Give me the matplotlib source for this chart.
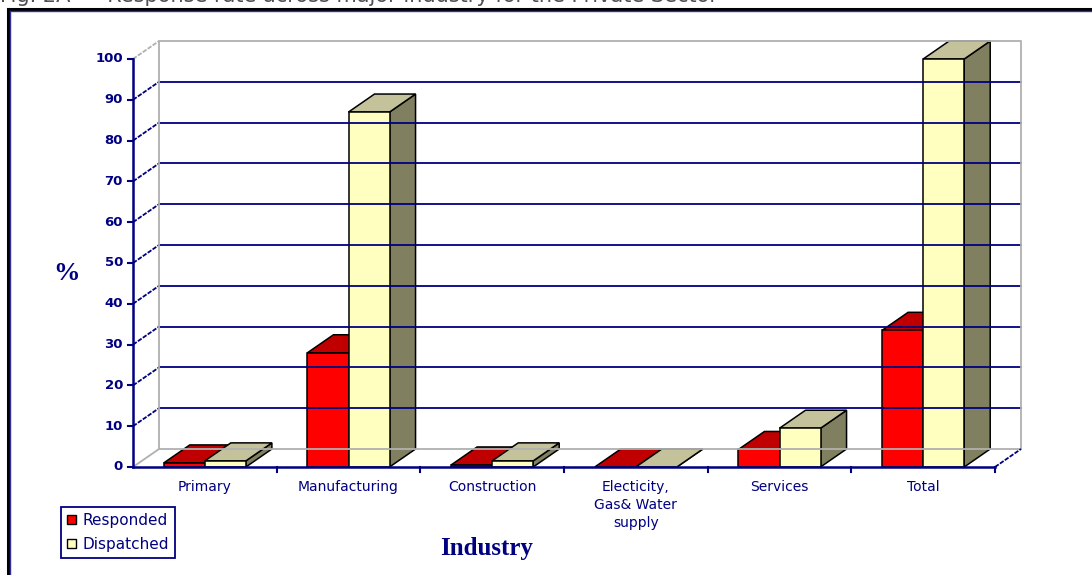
import matplotlib
matplotlib.use("Agg")
import matplotlib.pyplot as plt
from matplotlib.patches import Polygon, Patch
from matplotlib.lines import Line2D

categories = ["Primary", "Manufacturing", "Construction",
              "Electicity,\nGas& Water\nsupply", "Services", "Total"]
responded = [1, 28, 0.5, 0, 4.3, 33.5]
dispatched = [1.5, 87, 1.5, 0, 9.5, 100]
yticks = [0, 10, 20, 30, 40, 50, 60, 70, 80, 90, 100]
series_names = ["Responded", "Dispatched"]
title_text = "Fig. 2A  \u2013  Response rate across major industry for the Private Sector"

NAVY = "#000080"
GRAY = "#b0b0b0"
RED_FRONT, RED_TOP, RED_SIDE = "#ff0000", "#c00000", "#800000"
YEL_FRONT, YEL_TOP, YEL_SIDE = "#ffffc0", "#c4c29a", "#807f60"

W, H = 1092, 575
fig = plt.figure(figsize=(W / 100, H / 100), dpi=100)
fig.patch.set_facecolor("white")

# front face of the plot area in pixels
x_left, x_right = 133, 995
y_bot, y_top = 467, 59
ax = fig.add_axes([x_left / W, (H - y_bot) / H,
                   (x_right - x_left) / W, (y_bot - y_top) / H])
ax.set_xlim(-0.5, len(categories) - 0.5)
ax.set_ylim(0, 100)
ax.axis("off")

px_x = (len(categories)) / (x_right - x_left)   # data units per px (x)
px_y = 100 / (y_bot - y_top)                    # data units per px (y)
DX, DY = 26 * px_x, 18 * px_y
x0, x1 = -0.5, len(categories) - 0.5

def line(xs, ys, **kw):
    ax.add_line(Line2D(xs, ys, clip_on=False, **kw))

# back wall gridlines
for v in yticks[1:-1]:
    line([x0 + DX, x1 + DX], [v + DY, v + DY], color=NAVY, lw=1.3)
    line([x0, x0 + DX], [v, v + DY], color=NAVY, lw=1.3, ls=(0, (2.5, 0.8)))
# back wall border
line([x0 + DX, x1 + DX, x1 + DX, x0 + DX, x0 + DX],
     [DY, DY, 100 + DY, 100 + DY, DY], color=GRAY, lw=1.3)
line([x0, x0 + DX], [100, 100 + DY], color=GRAY, lw=1.3, ls=(0, (2.5, 0.8)))
line([x0, x0 + DX], [0, DY], color=GRAY, lw=1.3)
line([x1, x1 + DX], [0, DY], color=NAVY, lw=1.3, ls=(0, (2.5, 0.8)))

# front axes
line([x0, x0], [0, 100], color=NAVY, lw=1.8)
line([x0, x1], [0, 0], color=NAVY, lw=1.8)
tl_y = 5 * px_x
for v in yticks:
    line([x0 - tl_y, x0], [v, v], color=NAVY, lw=1.5)
    ax.text(x0 - 10 * px_x, v, str(v), ha="right", va="center",
            fontsize=9.5, fontweight="bold", color=NAVY)
for k in range(1, len(categories) + 1):
    line([x0 + k, x0 + k], [0, -5 * px_y], color=NAVY, lw=1.5)
for i, c in enumerate(categories):
    ax.text(i, -13 * px_y, c, ha="center", va="top", fontsize=10,
            color=NAVY, linespacing=1.35)

# bars with pseudo-3D faces
bw = 1 / 3.5
def bar3d(xa, h, cf, ct, cs):
    xb = xa + bw
    kw = dict(closed=True, ec="black", lw=1.1, clip_on=False, joinstyle="miter")
    ax.add_patch(Polygon([(xb, 0), (xb, h), (xb + DX, h + DY), (xb + DX, DY)],
                         fc=cs, **kw))
    ax.add_patch(Polygon([(xa, h), (xb, h), (xb + DX, h + DY), (xa + DX, h + DY)],
                         fc=ct, **kw))
    if h > 0:
        ax.bar([xa], [h], width=bw, align="edge", color=cf, edgecolor="black",
               linewidth=1.1, clip_on=False)

for i in range(len(categories)):
    bar3d(i - bw, responded[i], RED_FRONT, RED_TOP, RED_SIDE)
    bar3d(i, dispatched[i], YEL_FRONT, YEL_TOP, YEL_SIDE)

# axis titles
fig.text(67 / W, 1 - 273 / H, "%", ha="center", va="center", fontsize=19,
         fontweight="bold", color=NAVY, family="Liberation Serif")
fig.text(487 / W, 1 - 548 / H, "Industry", ha="center", va="center",
         fontsize=18, fontweight="bold", color=NAVY, family="Liberation Serif")

# legend
handles = [Patch(fc=RED_FRONT, ec="black", lw=1),
           Patch(fc=YEL_FRONT, ec="black", lw=1)]
leg = fig.legend(handles, series_names, loc="upper left",
                 bbox_to_anchor=(61 / W, 1 - 507 / H), fontsize=11,
                 handlelength=0.55, handleheight=0.55, handletextpad=0.45,
                 borderpad=0.4, labelspacing=0.55, fancybox=False,
                 framealpha=1, edgecolor=NAVY, labelcolor=NAVY,
                 borderaxespad=0)
leg.get_frame().set_linewidth(1.3)

# chart frame
fig.add_artist(Line2D([8 / W, 8 / W], [0, 1 - 9 / H], transform=fig.transFigure,
                      color="black", lw=2.2))
fig.add_artist(Line2D([10 / W, 10 / W], [0, 1 - 11 / H], transform=fig.transFigure,
                      color="#3030a0", lw=1))
fig.add_artist(Line2D([8 / W, 1], [1 - 8.5 / H, 1 - 8.5 / H], transform=fig.transFigure,
                      color="black", lw=2.2))
fig.add_artist(Line2D([10 / W, 1], [1 - 10.5 / H, 1 - 10.5 / H], transform=fig.transFigure,
                      color="#3030a0", lw=1))
fig.text(0.0, 1 - 2 / H, title_text, ha="left", va="baseline",
         fontsize=15, color="#505050")

fig.savefig("out.png", dpi=100, facecolor="white")
